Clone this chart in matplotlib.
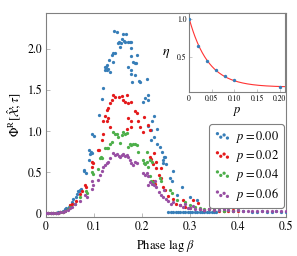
import numpy as np
import matplotlib
matplotlib.use("Agg")
import matplotlib.pyplot as plt

plt.rcParams['font.family'] = ['STIXGeneral', 'DejaVu Serif']
plt.rcParams['mathtext.fontset'] = 'stix'

# ---------------- data ----------------
labels = ["$p = 0.00$", "$p = 0.02$", "$p = 0.04$", "$p = 0.06$"]
colors = ["#377eb8", "#e41a1c", "#4daf4a", "#984ea3"]

beta_p000 = [0.0, 0.005, 0.01, 0.015, 0.02, 0.025, 0.03, 0.035, 0.04, 0.042, 0.047, 0.05,
             0.055, 0.057, 0.062, 0.065, 0.067, 0.068, 0.07, 0.072, 0.079, 0.08, 0.083, 0.09,
             0.09, 0.0917, 0.093, 0.096, 0.095, 0.099, 0.111, 0.116, 0.119, 0.123, 0.123,
             0.125, 0.126, 0.128, 0.13, 0.133, 0.132, 0.137, 0.14, 0.14, 0.144, 0.149, 0.142,
             0.147, 0.151, 0.154, 0.156, 0.159, 0.161, 0.163, 0.166, 0.165, 0.171, 0.175,
             0.176, 0.178, 0.171, 0.177, 0.176, 0.179, 0.178, 0.182, 0.185, 0.188, 0.189,
             0.185, 0.196, 0.194, 0.21, 0.203, 0.206, 0.213, 0.213, 0.22, 0.224, 0.213, 0.218,
             0.224, 0.218, 0.232, 0.231, 0.2375, 0.241, 0.248, 0.244, 0.246, 0.243, 0.25,
             0.265, 0.258, 0.262, 0.272, 0.283, 0.3, 0.314,
             0.255, 0.26, 0.265, 0.27, 0.275, 0.28, 0.285, 0.29, 0.295, 0.3, 0.305, 0.31,
             0.315, 0.32, 0.325, 0.33, 0.335, 0.34, 0.345, 0.35, 0.355, 0.37, 0.39, 0.41,
             0.43, 0.44, 0.45, 0.46, 0.47, 0.48, 0.49, 0.5]
phi_p000 = [0.01, 0.01, 0.01, 0.01, 0.01, 0.015, 0.02, 0.03, 0.05, 0.06, 0.08, 0.10,
            0.14, 0.17, 0.20, 0.24, 0.275, 0.27, 0.29, 0.30, 0.51, 0.53, 0.49, 0.77,
            0.65, 0.72, 0.75, 0.74, 0.97, 0.94, 1.20, 1.39, 1.52, 1.75, 1.78,
            1.78, 1.74, 1.80, 1.76, 1.72, 1.86, 1.93, 1.95, 1.84, 1.95, 2.07, 2.22,
            2.21, 2.09, 2.03, 2.07, 2.12, 2.18, 2.10, 2.18, 2.08, 2.09, 2.08,
            2.08, 2.01, 1.78, 1.74, 1.70, 1.60, 1.91, 1.84, 1.83, 1.83, 1.93,
            1.68, 1.60, 1.61, 1.64, 1.36, 1.40, 1.44, 1.38, 1.13, 1.18, 1.06, 1.01,
            0.93, 0.89, 1.03, 0.85, 0.81, 0.75, 0.69, 0.65, 0.69, 0.61, 0.60,
            0.51, 0.43, 0.40, 0.22, 0.32, 0.20, 0.16,
            0.02, 0.02, 0.015, 0.02, 0.02, 0.015, 0.02, 0.02, 0.015, 0.02, 0.02, 0.015,
            0.02, 0.02, 0.02, 0.015, 0.02, 0.02, 0.02, 0.015, 0.02, 0.03, 0.03, 0.025,
            0.02, 0.02, 0.025, 0.02, 0.02, 0.025, 0.02, 0.02]

beta_p002 = [0.0, 0.005, 0.01, 0.015, 0.02, 0.025, 0.03, 0.035, 0.04, 0.045, 0.049, 0.055,
             0.062, 0.071, 0.075, 0.081, 0.083, 0.095, 0.097, 0.096, 0.109, 0.111, 0.116,
             0.119, 0.119, 0.123, 0.126, 0.126, 0.13, 0.13, 0.133, 0.133, 0.137, 0.14, 0.144,
             0.151, 0.158, 0.161, 0.165, 0.168, 0.171, 0.178, 0.185, 0.189, 0.171, 0.178,
             0.192, 0.196, 0.178, 0.168, 0.204, 0.213, 0.217, 0.203, 0.217, 0.219, 0.222,
             0.224, 0.229, 0.23, 0.236, 0.24, 0.24, 0.222, 0.226, 0.244, 0.247, 0.254,
             0.265, 0.27, 0.28, 0.286, 0.29, 0.3, 0.307, 0.317, 0.32, 0.33, 0.34, 0.35,
             0.36, 0.37, 0.38, 0.39, 0.4]
phi_p002 = [0.01, 0.01, 0.01, 0.01, 0.01, 0.01, 0.015, 0.02, 0.03, 0.05, 0.10, 0.12,
            0.15, 0.24, 0.27, 0.34, 0.32, 0.63, 0.61, 0.56, 0.77, 0.77, 0.89,
            0.96, 1.13, 1.18, 1.13, 1.26, 1.16, 1.28, 1.34, 1.05, 1.38, 1.44, 1.42,
            1.42, 1.43, 1.38, 1.36, 1.44, 1.34, 1.36, 1.24, 1.22, 1.16, 1.13,
            1.13, 1.05, 1.05, 1.03, 1.17, 1.07, 1.02, 0.99, 0.69, 0.66, 0.60,
            0.73, 0.55, 0.63, 0.47, 0.43, 0.55, 0.40, 0.36, 0.32, 0.28, 0.21,
            0.17, 0.12, 0.10, 0.16, 0.08, 0.06, 0.16, 0.13, 0.05, 0.04, 0.05, 0.04,
            0.03, 0.03, 0.03, 0.04, 0.03]

beta_p004 = [0.0, 0.005, 0.01, 0.015, 0.02, 0.025, 0.03, 0.035, 0.04, 0.045, 0.05, 0.06,
             0.071, 0.083, 0.086, 0.095, 0.097, 0.109, 0.1125, 0.115, 0.116, 0.123, 0.126,
             0.13, 0.133, 0.137, 0.14, 0.144, 0.147, 0.15, 0.155, 0.158, 0.161, 0.165, 0.168,
             0.171, 0.175, 0.178, 0.181, 0.185, 0.189, 0.192, 0.203, 0.206, 0.21, 0.21,
             0.213, 0.205, 0.217, 0.22, 0.217, 0.219, 0.222, 0.2375, 0.24, 0.258, 0.262,
             0.272, 0.29, 0.3, 0.31, 0.32, 0.33, 0.34, 0.35, 0.36, 0.37, 0.38, 0.39, 0.4]
phi_p004 = [0.01, 0.01, 0.01, 0.01, 0.01, 0.01, 0.015, 0.02, 0.03, 0.05, 0.08, 0.12,
            0.20, 0.27, 0.25, 0.50, 0.48, 0.54, 0.67, 0.69, 0.67, 0.80, 0.79,
            0.80, 0.85, 0.87, 0.99, 0.97, 0.96, 0.93, 0.86, 0.95, 0.99, 0.97, 0.98,
            0.81, 0.85, 0.83, 0.85, 0.85, 0.83, 0.75, 0.65, 0.60, 0.62, 0.75,
            0.56, 0.61, 0.46, 0.62, 0.65, 0.40, 0.38, 0.43, 0.40, 0.28, 0.25,
            0.16, 0.14, 0.10, 0.08, 0.06, 0.05, 0.05, 0.04, 0.04, 0.03, 0.04, 0.03, 0.04]

beta_p006 = [0.0, 0.005, 0.01, 0.015, 0.02, 0.025, 0.03, 0.036, 0.04, 0.045, 0.05, 0.055,
             0.06, 0.071, 0.081, 0.085, 0.095, 0.097, 0.096, 0.109, 0.1125, 0.116, 0.119,
             0.123, 0.126, 0.13, 0.133, 0.14, 0.144, 0.147, 0.151, 0.154, 0.158, 0.161,
             0.165, 0.168, 0.171, 0.175, 0.178, 0.182, 0.185, 0.189, 0.203, 0.206, 0.21,
             0.213, 0.213, 0.217, 0.22, 0.224, 0.226, 0.23, 0.236, 0.24, 0.244, 0.245,
             0.25, 0.255, 0.26, 0.265, 0.28, 0.285, 0.29, 0.295, 0.3, 0.306, 0.31, 0.32,
             0.33, 0.34, 0.35, 0.36, 0.37, 0.38, 0.39, 0.4, 0.41, 0.42, 0.43, 0.44, 0.45,
             0.46, 0.47, 0.48, 0.49, 0.5]
phi_p006 = [0.01, 0.01, 0.01, 0.01, 0.01, 0.01, 0.015, 0.02, 0.03, 0.04, 0.06, 0.08,
            0.11, 0.15, 0.22, 0.20, 0.40, 0.35, 0.30, 0.41, 0.47, 0.51, 0.57,
            0.59, 0.61, 0.63, 0.67, 0.73, 0.71, 0.72, 0.70, 0.69, 0.71, 0.72,
            0.70, 0.71, 0.69, 0.65, 0.61, 0.59, 0.62, 0.61, 0.49, 0.47, 0.49,
            0.45, 0.34, 0.38, 0.36, 0.34, 0.40, 0.32, 0.26, 0.22, 0.20, 0.28,
            0.18, 0.15, 0.12, 0.14, 0.10, 0.08, 0.12, 0.07, 0.06, 0.09, 0.05, 0.05,
            0.04, 0.05, 0.04, 0.04, 0.05, 0.04, 0.03, 0.04, 0.03, 0.03, 0.03, 0.03, 0.03,
            0.03, 0.03, 0.03, 0.03, 0.03]

betas = [beta_p000, beta_p002, beta_p004, beta_p006]
phis = [phi_p000, phi_p002, phi_p004, phi_p006]

# inset data
p_vals = [0.0, 0.02, 0.04, 0.06, 0.08, 0.10, 0.20]
eta_vals = [1.0, 0.645, 0.447, 0.325, 0.246, 0.193, 0.105]
fit_c = 0.10
fit_p0 = 0.042

main_xticks = [0, 0.1, 0.2, 0.3, 0.4, 0.5]
main_xticklabels = ["0", "0.1", "0.2", "0.3", "0.4", "0.5"]
main_yticks = [0, 0.5, 1.0, 1.5, 2.0]
main_yticklabels = ["0", "0.5", "1.0", "1.5", "2.0"]
inset_xticks = [0, 0.05, 0.10, 0.15, 0.20]
inset_xticklabels = ["0", "0.05", "0.10", "0.15", "0.20"]
inset_yticks = [0.5, 1.0]
inset_yticklabels = ["0.5", "1.0"]

# ---------------- figure ----------------
fig = plt.figure(figsize=(2.97, 2.56), dpi=100)
ax = fig.add_axes([0.155, 0.1535, 0.808, 0.7965])
spine_col = "#808080"

for b, f, c, lab in zip(betas, phis, colors, labels):
    ax.scatter(b, f, s=5.5, color=c, linewidths=0, label=lab, zorder=3)

ax.set_xlim(0, 0.5)
ax.set_ylim(-0.04, 2.44)
ax.set_xticks(main_xticks)
ax.set_xticklabels(main_xticklabels)
ax.set_yticks(main_yticks)
ax.set_yticklabels(main_yticklabels)
ax.tick_params(direction='in', length=3, width=0.6, color='#b0b0b0', labelsize=8.5, pad=3)
for s in ax.spines.values():
    s.set_color(spine_col)
    s.set_linewidth(0.8)
ax.set_xlabel(r"Phase lag $\beta$", fontsize=9, labelpad=4)
ax.set_ylabel(r"$\Phi^{\mathrm{R}}[\hat{\mathcal{X}};\tau]$", fontsize=9, labelpad=2)

leg = ax.legend(loc='lower right', bbox_to_anchor=(0.99, 0.045), borderaxespad=0,
                fontsize=9, scatterpoints=4, scatteryoffsets=[0.7, 0.3, 0.55, 0.2],
                handlelength=1.4, handletextpad=0.4, labelspacing=0.25,
                borderpad=0.35, markerscale=1.0, fancybox=True, framealpha=1)
leg.get_frame().set_edgecolor(spine_col)
leg.get_frame().set_linewidth(0.8)

# inset
ins = fig.add_axes([0.637, 0.639, 0.323, 0.309])
pp = np.linspace(0, 0.212, 200)
ins.plot(pp, fit_c + (1 - fit_c) * np.exp(-pp / fit_p0), color="#ff3333", lw=0.8, zorder=2)
ins.scatter(p_vals, eta_vals, s=6, color=colors[0], linewidths=0, zorder=3)
ins.set_xlim(0, 0.212)
ins.set_ylim(0.03, 1.07)
ins.set_xticks(inset_xticks)
ins.set_xticklabels(inset_xticklabels)
ins.set_yticks(inset_yticks)
ins.set_yticklabels(inset_yticklabels)
ins.tick_params(direction='in', length=2, width=0.5, color='#b0b0b0', labelsize=5.5, pad=2)
for s in ins.spines.values():
    s.set_color(spine_col)
    s.set_linewidth(0.8)
ins.set_xlabel(r"$p$", fontsize=9, labelpad=1)
ins.set_ylabel(r"$\eta$", fontsize=10, rotation=0, labelpad=8, va='center')

fig.savefig("out.png", dpi=100)
